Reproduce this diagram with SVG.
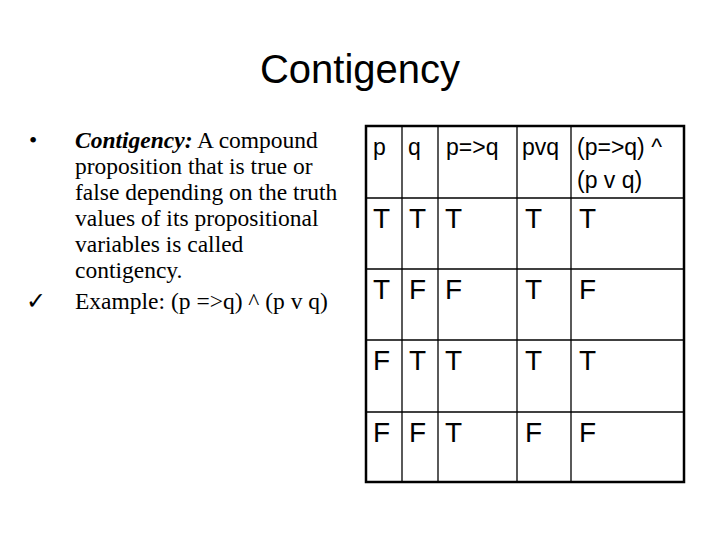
<svg xmlns="http://www.w3.org/2000/svg" width="720" height="540" viewBox="0 0 720 540">
<style>
.t{font-family:"Liberation Serif",serif;font-size:23.5px;fill:#000}
.a{font-family:"Liberation Sans",Arial,sans-serif;fill:#000}
.h{font-size:23px}.d{font-size:28px}
.in{stroke:#000;stroke-width:1.3}
</style>
<rect width="720" height="540" fill="#fff"/>
<text class="a" x="360" y="83" font-size="40" text-anchor="middle">Contigency</text>
<g id="text">
<text class="t" x="29" y="148">•</text>
<text class="t" x="75" y="148"><tspan font-weight="bold" font-style="italic">Contigency:</tspan> A compound</text>
<text class="t" x="75" y="174">proposition that is true or</text>
<text class="t" x="75" y="200">false depending on the truth</text>
<text class="t" x="75" y="226">values of its propositional</text>
<text class="t" x="75" y="252">variables is called</text>
<text class="t" x="75" y="278">contigency.</text>
<text class="t" x="26" y="309" font-size="18">✓</text>
<text class="t" x="75" y="309">Example: (p =&gt;q) ^ (p v q)</text>
</g>
<g id="table">
<g class="in">
<line x1="402" y1="126" x2="402" y2="482"/>
<line x1="438" y1="126" x2="438" y2="482"/>
<line x1="517" y1="126" x2="517" y2="482"/>
<line x1="571" y1="126" x2="571" y2="482"/>
<line x1="366" y1="198" x2="684" y2="198"/>
<line x1="366" y1="269" x2="684" y2="269"/>
<line x1="366" y1="340" x2="684" y2="340"/>
<line x1="366" y1="412" x2="684" y2="412"/>
</g>
<rect x="366" y="126" width="318" height="356" fill="none" stroke="#000" stroke-width="2.5"/>
<g class="a h">
<text x="373" y="155">p</text><text x="408" y="155">q</text><text x="446" y="155">p=&gt;q</text><text x="522" y="155">pvq</text><text x="577" y="155">(p=&gt;q) ^</text><text x="577" y="188">(p v q)</text>
</g>
<g class="a d">
<text x="373" y="228">T</text><text x="409" y="228">T</text><text x="445" y="228">T</text><text x="525" y="228">T</text><text x="579" y="228">T</text>
<text x="373" y="299">T</text><text x="409" y="299">F</text><text x="445" y="299">F</text><text x="525" y="299">T</text><text x="579" y="299">F</text>
<text x="373" y="370">F</text><text x="409" y="370">T</text><text x="445" y="370">T</text><text x="525" y="370">T</text><text x="579" y="370">T</text>
<text x="373" y="442">F</text><text x="409" y="442">F</text><text x="445" y="442">T</text><text x="525" y="442">F</text><text x="579" y="442">F</text>
</g>
</g>
</svg>
